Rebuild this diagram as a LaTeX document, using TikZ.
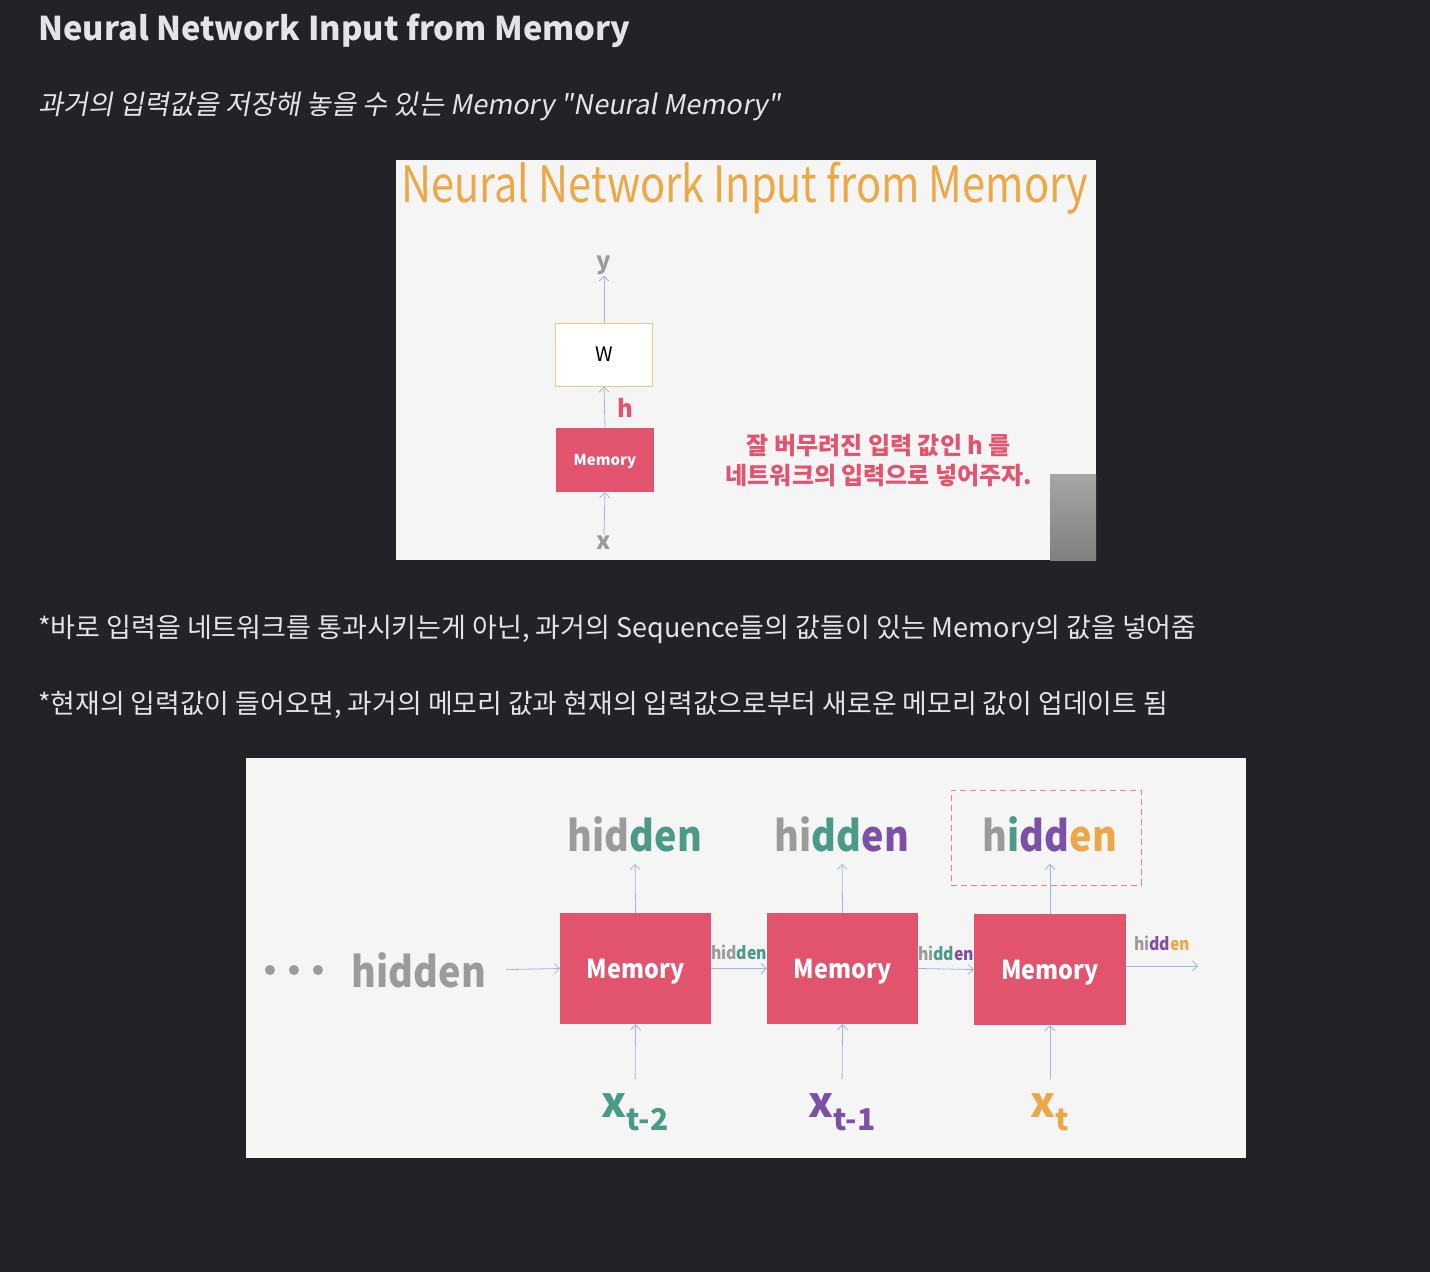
\documentclass[tikz,border=0pt]{standalone}
\usepackage{fontspec}
\usepackage{xcolor}
\setmainfont{Noto Sans CJK KR}
\newfontfamily\slantfont{Noto Sans CJK KR}[FakeSlant=0.18]
\usetikzlibrary{positioning,arrows.meta,calc}
\definecolor{pageBg}{RGB}{33,35,39}
\definecolor{pageText}{RGB}{226,228,232}
\definecolor{slideBg}{RGB}{245,245,245}
\definecolor{memRed}{RGB}{226,83,110}
\definecolor{slideOrange}{RGB}{236,168,70}
\definecolor{hidGray}{RGB}{155,155,155}
\definecolor{hidTeal}{RGB}{74,154,136}
\definecolor{hidPurple}{RGB}{124,80,166}
\definecolor{arrowBlue}{RGB}{158,184,216}
\definecolor{wBorder}{RGB}{233,202,128}
\tikzset{
    membox/.style={rectangle, fill=memRed, text=white, inner sep=0pt, text depth=0pt},
    flow/.style={draw=arrowBlue, line width=0.8pt, -{Straight Barb[length=5pt, width=10pt]}},
    pagetext/.style={anchor=west, text=pageText, inner sep=0pt}
}

\begin{document}
\begin{tikzpicture}[x=1pt, y=-1pt,
        % --- STYLE ---
        biglabel/.style={font=\bfseries\fontsize{42}{42}\selectfont, inner sep=0pt},
        smalllabel/.style={font=\bfseries\fontsize{17.5}{17.5}\selectfont, inner sep=1pt},
        xlabel/.style={font=\bfseries\fontsize{42}{42}\selectfont, inner sep=0pt},
        memtext/.style={font=\bfseries\fontsize{26}{26}\selectfont}
    ]
    \path[use as bounding box, fill=pageBg] (0,0) rectangle (1430,1272);

    % --- TEXT ON THE PAGE ---
    \node[pagetext, font=\bfseries\fontsize{32.7}{36}\selectfont] (pageTitle) at (38,31) {Neural Network Input from Memory};
    \node[pagetext, font=\slantfont\fontsize{27.2}{30}\selectfont] (subTitle) at (38,106) {과거의 입력값을 저장해 놓을 수 있는 Memory "Neural Memory"};
    \node[pagetext, font=\fontsize{27}{30}\selectfont] (noteOne) at (38,629) {*바로 입력을 네트워크를 통과시키는게 아닌, 과거의 Sequence들의 값들이 있는 Memory의 값을 넣어줌};
    \node[pagetext, font=\fontsize{26.85}{30}\selectfont] (noteTwo) at (38,705) {*현재의 입력값이 들어오면, 과거의 메모리 값과 현재의 입력값으로부터 새로운 메모리 값이 업데이트 됨};

    % --- SLIDE 1 ---
    \fill[slideBg] (396,160) rectangle (1096,560);
    \node[anchor=west, text=slideOrange, font=\fontsize{50}{54}\selectfont, inner sep=0pt] (slideTitle) at (401,188) {\scalebox{0.83}[1]{Neural Network Input from Memory}};

    \node[text=hidGray, font=\bfseries\fontsize{24}{24}\selectfont, inner sep=1pt] (yOut) at (604,265) {y};
    \node[draw=wBorder, line width=1pt, fill=white, minimum width=97, minimum height=63, font=\fontsize{20}{20}\selectfont] (wBox) at (604,354.5) {W};
    \node[membox, minimum width=98, minimum height=64, font=\bfseries\fontsize{15}{15}\selectfont] (memSingle) at (605,460) {Memory};
    \node[text=hidGray, font=\bfseries\fontsize{24}{24}\selectfont, inner sep=1pt] (xIn) at (604,543) {x};
    \node[text=memRed, font=\bfseries\fontsize{24}{24}\selectfont] (hLab) at (625,408) {h};

    \draw[flow] (wBox.north) -- (yOut.south);
    \draw[flow] (memSingle.north) -- (wBox.south);
    \draw[flow] (xIn.north) -- (memSingle.south);

    \node[text=memRed, font=\bfseries\fontsize{24}{30}\selectfont, align=center] (slideNote) at (879,461)
        {잘 버무려진 입력 값인 h 를\\네트워크의 입력으로 넣어주자.};
    \shade[top color=black!35, bottom color=black!50] (1050,474) rectangle (1096,560);

    % --- SLIDE 2 ---
    \fill[slideBg] (246,758) rectangle (1246,1158);
    \foreach \dx in {270,294,318}
        \fill[hidGray] (\dx,970) circle (5);
    \node[biglabel, text=hidGray] (hPrev) at (419,970) {\scalebox{0.9}[1]{hidden}};

    \node[membox, minimum width=151, minimum height=111, memtext] (mem1) at (635.5,968.5) {\scalebox{0.9}[1]{Memory}};
    \node[membox, minimum width=151, minimum height=111, memtext] (mem2) at (842.5,968.5) {\scalebox{0.9}[1]{Memory}};
    \node[membox, minimum width=152, minimum height=111, memtext] (mem3) at (1050,969.5) {\scalebox{0.9}[1]{Memory}};

    \node[biglabel] (hTop1) at (635,834) {\scalebox{0.9}[1]{\textcolor{hidGray}{hid}\textcolor{hidTeal}{den}}};
    \node[biglabel] (hTop2) at (842,834) {\scalebox{0.9}[1]{\textcolor{hidGray}{hi}\textcolor{hidTeal}{dd}\textcolor{hidPurple}{en}}};
    \node[biglabel] (hTop3) at (1050,834) {\scalebox{0.9}[1]{\textcolor{hidGray}{h}\textcolor{hidTeal}{i}\textcolor{hidPurple}{dd}\textcolor{slideOrange}{en}}};
    \node[draw=memRed!75, dash pattern=on 6pt off 4pt, line width=1pt, minimum width=190, minimum height=95] (dashBox) at (1046,837.5) {};

    \node[xlabel, text=hidTeal] (x1) at (635,1112) {x\raisebox{-0.3em}{\fontsize{30}{30}\selectfont t-2}};
    \node[xlabel, text=hidPurple] (x2) at (842,1112) {x\raisebox{-0.3em}{\fontsize{30}{30}\selectfont t-1}};
    \node[xlabel, text=slideOrange] (x3) at (1050,1112) {x\raisebox{-0.3em}{\fontsize{30}{30}\selectfont t}};
    \coordinate (hOut) at (1198,966);

    % --- ARROWS ---
    \draw[flow, shorten <=20pt] (hPrev.east) -- (mem1.west);
    \draw[flow] (mem1.east) -- (mem2.west)
        node[smalllabel, midway, above=7pt] {\scalebox{0.9}[1]{\textcolor{hidGray}{hid}\textcolor{hidTeal}{den}}};
    \draw[flow] (mem2.east) -- (mem3.west)
        node[smalllabel, midway, above=7pt] {\scalebox{0.9}[1]{\textcolor{hidGray}{hi}\textcolor{hidTeal}{dd}\textcolor{hidPurple}{en}}};
    \draw[flow] (mem3.east |- hOut) -- (hOut)
        node[smalllabel, midway, above=14pt] {\scalebox{0.9}[1]{\textcolor{hidGray}{hi}\textcolor{hidPurple}{dd}\textcolor{slideOrange}{en}}};
    \foreach \i in {1,2,3} {
        \draw[flow, shorten >=12pt] (mem\i.north) -- (hTop\i.south);
        \draw[flow, shorten <=14pt] (x\i.north) -- (mem\i.south);
    }
\end{tikzpicture}
\end{document}
